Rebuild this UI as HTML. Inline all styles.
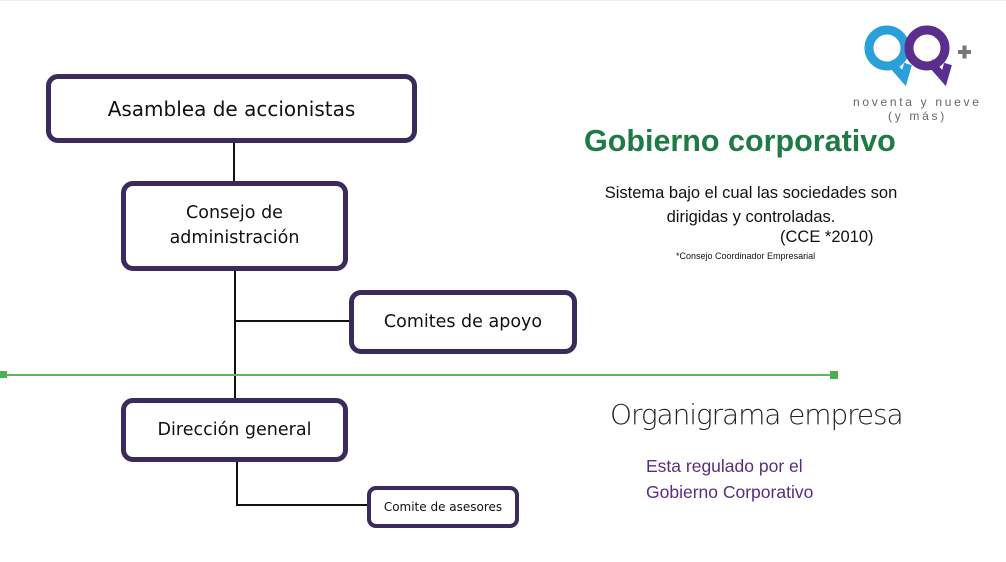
<!DOCTYPE html>
<html><head><meta charset="utf-8"><style>
body{margin:0;width:1006px;height:562px;background:#fff;position:relative;overflow:hidden;font-family:"Liberation Sans",sans-serif}
.b{position:absolute;box-sizing:border-box;border:5px solid #3a2a5e;border-radius:12px;display:flex;align-items:center;justify-content:center;text-align:center;color:#111;font-family:"DejaVu Sans","Liberation Sans",sans-serif}
.l{position:absolute;background:#111}
.t{position:absolute;white-space:nowrap}
</style></head><body>
<div style="position:absolute;left:0;top:0;width:1006px;height:1px;background:#eee"></div>
<div class="l" style="left:233px;top:140px;width:2px;height:44px"></div>
<div class="l" style="left:234px;top:268px;width:2px;height:132px"></div>
<div class="l" style="left:235px;top:320px;width:116px;height:2px"></div>
<div class="l" style="left:236px;top:459px;width:2px;height:47px"></div>
<div class="l" style="left:236px;top:504px;width:133px;height:2px"></div>
<div style="position:absolute;left:3px;top:374px;width:831px;height:2px;background:#5cb85c"></div>
<div style="position:absolute;left:0;top:371px;width:7px;height:7px;background:#4caf50"></div>
<div style="position:absolute;left:830px;top:371px;width:8px;height:8px;background:#4caf50"></div>
<div class="b" style="left:46px;top:74px;width:371px;height:69px;font-size:20px">Asamblea de accionistas</div>
<div class="b" style="left:121px;top:181px;width:227px;height:90px;font-size:17.5px;line-height:25px">Consejo de<br>administración</div>
<div class="b" style="left:349px;top:290px;width:228px;height:64px;font-size:17.5px">Comites de apoyo</div>
<div class="b" style="left:121px;top:398px;width:227px;height:64px;font-size:17.5px">Dirección general</div>
<div class="b" style="left:367px;top:486px;width:152px;height:42px;font-size:12px;border-width:4px;border-radius:9px">Comite de asesores</div>
<div class="t" style="left:584px;top:124px;font-size:30.5px;font-weight:bold;color:#1e7b45">Gobierno corporativo</div>
<div class="t" style="left:580px;top:181px;width:342px;text-align:center;font-size:16.5px;line-height:24px;color:#111">Sistema bajo el cual las sociedades son<br>dirigidas y controladas.</div>
<div class="t" style="left:780px;top:228px;font-size:16.5px;color:#111">(CCE *2010)</div>
<div class="t" style="left:676px;top:251px;font-size:9px;color:#111">*Consejo Coordinador Empresarial</div>
<div class="t" style="left:610px;top:398px;font-size:28px;color:#222;font-family:'DejaVu Sans',sans-serif;font-weight:200;letter-spacing:-1.1px">Organigrama empresa</div>
<div class="t" style="left:646px;top:453px;font-size:17.5px;line-height:26px;color:#5b2d7e">Esta regulado por el<br>Gobierno Corporativo</div>
<svg style="position:absolute;left:860px;top:18px" width="120" height="70" viewBox="0 0 120 70">
<circle cx="27" cy="30" r="18" fill="none" stroke="#2a9fd8" stroke-width="9"/>
<path d="M30 44 L44 60 L48 46" fill="none" stroke="#2a9fd8" stroke-width="8"/>
<circle cx="67" cy="30" r="18" fill="none" stroke="#5a2e8c" stroke-width="9"/>
<path d="M70 44 L84 60 L88 46" fill="none" stroke="#5a2e8c" stroke-width="8"/>
<rect x="98" y="32" width="13" height="4" fill="#777"/><rect x="102.5" y="27.5" width="4" height="13" fill="#777"/>
</svg>
<div class="t" style="left:853px;top:95px;font-size:12px;letter-spacing:2.7px;color:#666">noventa y nueve</div>
<div class="t" style="left:888px;top:109px;font-size:12px;letter-spacing:2.7px;color:#666">(y más)</div>
</body></html>
